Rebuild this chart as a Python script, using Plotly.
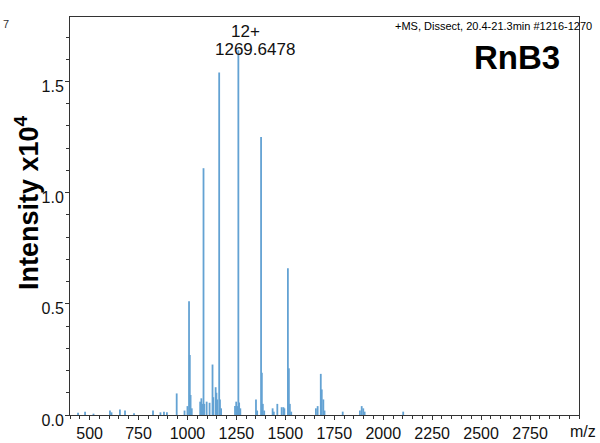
import plotly.graph_objects as go

# Peak list (m/z, intensity in units of 1e4)
mz = [441, 477, 520, 604, 612, 655, 681, 727, 824, 862, 880, 895, 945, 985, 1000,
      1008, 1012, 1016, 1022, 1065, 1071, 1078, 1082, 1086, 1098, 1113, 1128, 1132,
      1144, 1148, 1152, 1162, 1166, 1172, 1243, 1249, 1254, 1260, 1264, 1270, 1350,
      1356, 1376, 1380, 1385, 1392, 1435, 1441, 1459, 1481, 1490, 1495, 1513, 1518,
      1523, 1530, 1656, 1665, 1681, 1686, 1694, 1700, 1793, 1881, 1890, 1898, 1905, 2102]
intensity = [0.01, 0.015, 0.006, 0.02, 0.012, 0.025, 0.02, 0.008, 0.02, 0.012, 0.015, 0.012, 0.097, 0.02, 0.04,
             0.512, 0.27, 0.09, 0.03, 0.06, 0.075, 0.05, 1.11, 0.05, 0.06, 0.055, 0.227, 0.08,
             0.125, 0.1, 0.07, 1.54, 0.07, 0.03, 0.04, 0.06, 0.04, 1.64, 0.056, 0.03, 0.07,
             0.02, 1.25, 0.19, 0.05, 0.02, 0.03, 0.015, 0.05, 0.035, 0.035, 0.03, 0.66, 0.21,
             0.05, 0.015, 0.03, 0.04, 0.185, 0.115, 0.07, 0.02, 0.015, 0.02, 0.04, 0.03, 0.015, 0.015]

x_ticks = [500, 750, 1000, 1250, 1500, 1750, 2000, 2250, 2500, 2750]
y_ticks = [0.0, 0.5, 1.0, 1.5]

# stick spectrum built from the peak list
xs, ys = [], []
for m, i in zip(mz, intensity):
    xs += [m, m, None]
    ys += [0, i, None]

color = "#63a2d3"
fig = go.Figure()
fig.add_trace(go.Scatter(x=xs, y=ys, mode="lines", line=dict(color=color, width=1.8),
                         hoverinfo="skip", showlegend=False))

font = "Liberation Sans, Arial, sans-serif"
axis_common = dict(showgrid=False, zeroline=False, showline=True, linecolor="#333",
                   linewidth=1, mirror=True, ticks="outside", tickcolor="#333",
                   automargin=False,
                   tickfont=dict(family=font, size=16, color="#111"))

fig.update_layout(
    width=600, height=443,
    margin=dict(l=70, r=21, t=17, b=28),
    paper_bgcolor="white", plot_bgcolor="white",
    showlegend=False,
    xaxis=dict(range=[400, 3000], tickvals=x_ticks, ticklen=4,
               minor=dict(dtick=50, tick0=0, ticklen=3, ticks="outside", tickcolor="#333"),
               **axis_common),
    yaxis=dict(range=[0, 1.79], tickvals=y_ticks, tickformat=".1f", ticklen=4,
               ticklabelshift=5, ticklabelstandoff=-2,
               minor=dict(dtick=0.1, tick0=0, ticklen=3, ticks="outside", tickcolor="#333"),
               **axis_common),
)

def px_x(p):
    return (p - 70) / 509

def px_y(p):
    return (415 - p) / 398

anns = [
    dict(text="Intensity x10<sup>4</sup>", x=px_x(27), y=px_y(203), xref="paper", yref="paper",
         textangle=-90, showarrow=False, xanchor="center", yanchor="middle",
         font=dict(family=font, size=27, color="black", weight="bold")),
    dict(text="m/z", x=px_x(583), y=0, xref="paper", yref="paper", xanchor="center", yanchor="top",
         yshift=-6, showarrow=False, font=dict(family=font, size=16, color="#111")),
    dict(text="+MS, Dissect, 20.4-21.3min #1216-1270", x=px_x(594), y=px_y(26),
         xref="paper", yref="paper", xanchor="right", yanchor="middle",
         showarrow=False, font=dict(family=font, size=11, color="black")),
    dict(text="RnB3", x=px_x(562), y=px_y(57), xref="paper", yref="paper", xanchor="right",
         yanchor="middle", showarrow=False,
         font=dict(family=font, size=33, color="black", weight="bold")),
    dict(text="12+", x=px_x(245), y=px_y(31), xref="paper", yref="paper", xanchor="center",
         yanchor="middle", showarrow=False, font=dict(family=font, size=17, color="#111")),
    dict(text="1269.6478", x=px_x(255), y=px_y(50), xref="paper", yref="paper", xanchor="center",
         yanchor="middle", showarrow=False, font=dict(family=font, size=17, color="#111")),
    dict(text="7", x=px_x(1), y=px_y(24), xref="paper", yref="paper", xanchor="left",
         yanchor="middle", showarrow=False, font=dict(family=font, size=11, color="#333")),
]
fig.update_layout(annotations=anns)

fig.write_html("out.html")
